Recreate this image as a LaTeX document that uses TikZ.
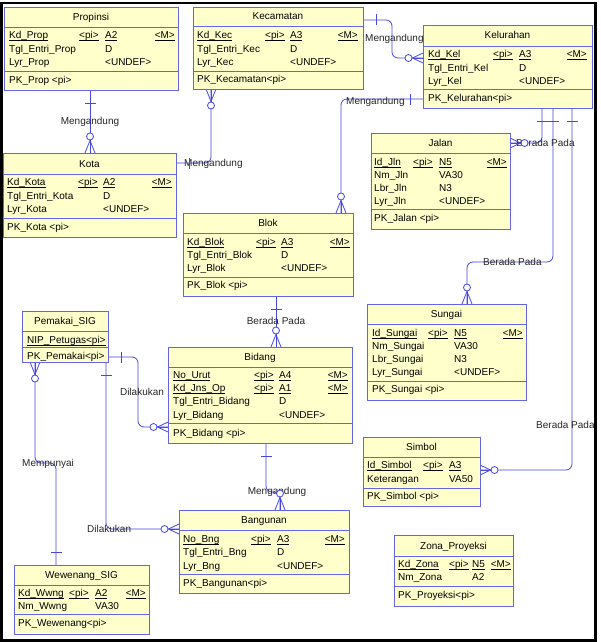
\documentclass[tikz,border=0pt]{standalone}
\usepackage{fontspec}
\setmainfont{Liberation Sans}
\definecolor{entfill}{RGB}{255,255,204}
\definecolor{entline}{RGB}{100,100,230}
\definecolor{connc}{RGB}{70,70,225}
\pgfdeclarelayer{bg}
\pgfsetlayers{bg,main}
\tikzset{
  conn/.style={draw=connc,line width=0.8pt},
  ent/.style={draw=entline,fill=entfill,line width=0.8pt,inner sep=0pt,outer sep=0pt,anchor=north west},
  sepl/.style={draw=entline,line width=0.8pt},
  txt/.style={inner sep=0pt,font=\fontsize{10}{12}\selectfont},
  titl/.style={txt,anchor=base},
  attr/.style={txt,anchor=base west},
  attrr/.style={txt,anchor=base east},
  lbl/.style={txt,text=black!85},
  crowv/.pic={\draw[conn] (0,-5) -- (12.5,0) -- (0,5); \draw[conn] (0,0) -- (12.5,0);
              \draw[conn,fill=white] (16.5,0) circle[radius=3.5];},
  crowh/.pic={\draw[conn] (0,-5) -- (10.5,0) -- (0,5); \draw[conn] (0,0) -- (10.5,0);
              \draw[conn,fill=white] (14.5,0) circle[radius=3.5];},
  barm/.pic={\draw[conn] (13,-5.5) -- (13,5.5);}
}
\newcommand\uln[1]{\underline{\smash{#1}}}
\newcommand\atx[4]{\node[attr] (#1) at (#2,#3) {#4};}
\newcommand\atr[4]{\node[attrr] (#1) at (#2,#3) {#4};}
\newcommand\entbox[8]{%
  \pgfmathsetmacro\tmpw{#4-#2}%
  \pgfmathsetmacro\tmph{#5-#3}%
  \pgfmathsetmacro\tmpy{(#3+#6)/2+3.5}%
  \node[ent,minimum width=\tmpw pt,minimum height=\tmph pt] (#1) at (#2,#3) {};
  \draw[sepl] (#1.west |- 0,#6) -- (#1.east |- 0,#6);
  \draw[sepl] (#1.west |- 0,#7) -- (#1.east |- 0,#7);
  \node[titl] (#1-t) at (#1.north |- 0,\tmpy) {#8};}
\begin{document}
\begin{tikzpicture}[x=1pt,y=-1pt]
\useasboundingbox (0,0) rectangle (600,642);
\begin{pgfonlayer}{bg}
\fill[white] (0,0) rectangle (600,642);
\end{pgfonlayer}

% Propinsi
\entbox{prop}{4}{7}{178}{90}{27}{71}{Propinsi}
\atx{prop-n1}{9}{38.5}{\uln{Kd\_Prop}}
\atx{prop-p1}{79}{38.5}{\uln{<pi>}}
\atx{prop-d1}{105}{38.5}{\uln{A2}}
\atr{prop-m1}{175}{38.5}{\uln{<M>}}
\atx{prop-n2}{9}{52.5}{Tgl\_Entri\_Prop}
\atx{prop-d2}{105}{52.5}{D}
\atx{prop-n3}{9}{65.5}{Lyr\_Prop}
\atx{prop-d3}{105}{65.5}{<UNDEF>}
\atx{prop-k}{9}{83.5}{PK\_Prop <pi>}

% Kecamatan
\entbox{kec}{193}{7}{363}{89}{26}{71}{Kecamatan}
\atx{kec-n1}{197}{38.5}{\uln{Kd\_Kec}}
\atx{kec-p1}{265}{38.5}{\uln{<pi>}}
\atx{kec-d1}{290}{38.5}{\uln{A3}}
\atr{kec-m1}{358}{38.5}{\uln{<M>}}
\atx{kec-n2}{197}{52.5}{Tgl\_Entri\_Kec}
\atx{kec-d2}{290}{52.5}{D}
\atx{kec-n3}{197}{65.5}{Lyr\_Kec}
\atx{kec-d3}{290}{65.5}{<UNDEF>}
\atx{kec-k}{197}{82.5}{PK\_Kecamatan<pi>}

% Kelurahan
\entbox{kel}{423}{25}{592}{108}{46}{89}{Kelurahan}
\atx{kel-n1}{428}{57.5}{\uln{Kd\_Kel}}
\atx{kel-p1}{493}{57.5}{\uln{<pi>}}
\atx{kel-d1}{519}{57.5}{\uln{A3}}
\atr{kel-m1}{587}{57.5}{\uln{<M>}}
\atx{kel-n2}{428}{71.5}{Tgl\_Entri\_Kel}
\atx{kel-d2}{519}{71.5}{D}
\atx{kel-n3}{428}{84.5}{Lyr\_Kel}
\atx{kel-d3}{519}{84.5}{<UNDEF>}
\atx{kel-k}{428}{101.5}{PK\_Kelurahan<pi>}

% Kota
\entbox{kota}{3}{153}{176}{237}{174}{218}{Kota}
\atx{kota-n1}{7}{185.5}{\uln{Kd\_Kota}}
\atx{kota-p1}{78}{185.5}{\uln{<pi>}}
\atx{kota-d1}{103}{185.5}{\uln{A2}}
\atr{kota-m1}{172}{185.5}{\uln{<M>}}
\atx{kota-n2}{7}{199.5}{Tgl\_Entri\_Kota}
\atx{kota-d2}{103}{199.5}{D}
\atx{kota-n3}{7}{212.5}{Lyr\_Kota}
\atx{kota-d3}{103}{212.5}{<UNDEF>}
\atx{kota-k}{7}{230.5}{PK\_Kota <pi>}

% Blok
\entbox{blok}{183}{213}{353}{296}{233}{277}{Blok}
\atx{blok-n1}{187}{245.5}{\uln{Kd\_Blok}}
\atx{blok-p1}{256}{245.5}{\uln{<pi>}}
\atx{blok-d1}{281}{245.5}{\uln{A3}}
\atr{blok-m1}{350}{245.5}{\uln{<M>}}
\atx{blok-n2}{187}{258.5}{Tgl\_Entri\_Blok}
\atx{blok-d2}{281}{258.5}{D}
\atx{blok-n3}{187}{271.5}{Lyr\_Blok}
\atx{blok-d3}{281}{271.5}{<UNDEF>}
\atx{blok-k}{187}{288.5}{PK\_Blok <pi>}

% Jalan
\entbox{jalan}{371}{133}{510}{229}{153}{209}{Jalan}
\atx{jalan-n1}{374}{165.5}{\uln{Id\_Jln}}
\atx{jalan-p1}{413}{165.5}{\uln{<pi>}}
\atx{jalan-d1}{439}{165.5}{\uln{N5}}
\atr{jalan-m1}{507}{165.5}{\uln{<M>}}
\atx{jalan-n2}{374}{178.5}{Nm\_Jln}
\atx{jalan-d2}{439}{178.5}{VA30}
\atx{jalan-n3}{374}{191.5}{Lbr\_Jln}
\atx{jalan-d3}{439}{191.5}{N3}
\atx{jalan-n4}{374}{204.5}{Lyr\_Jln}
\atx{jalan-d4}{439}{204.5}{<UNDEF>}
\atx{jalan-k}{374}{221.5}{PK\_Jalan <pi>}

% Sungai
\entbox{sungai}{367}{304}{526}{400}{324}{381}{Sungai}
\atx{sungai-n1}{372}{336.5}{\uln{Id\_Sungai}}
\atx{sungai-p1}{428}{336.5}{\uln{<pi>}}
\atx{sungai-d1}{454}{336.5}{\uln{N5}}
\atr{sungai-m1}{523}{336.5}{\uln{<M>}}
\atx{sungai-n2}{372}{349.5}{Nm\_Sungai}
\atx{sungai-d2}{454}{349.5}{VA30}
\atx{sungai-n3}{372}{362.5}{Lbr\_Sungai}
\atx{sungai-d3}{454}{362.5}{N3}
\atx{sungai-n4}{372}{375.5}{Lyr\_Sungai}
\atx{sungai-d4}{454}{375.5}{<UNDEF>}
\atx{sungai-k}{372}{392.5}{PK\_Sungai <pi>}

% Simbol
\entbox{simbol}{363}{437}{480}{506}{457}{488}{Simbol}
\atx{simbol-n1}{367}{468.5}{\uln{Id\_Simbol}}
\atx{simbol-p1}{423}{468.5}{\uln{<pi>}}
\atx{simbol-d1}{449}{468.5}{\uln{A3}}
\atx{simbol-n2}{367}{482.5}{Keterangan}
\atx{simbol-d2}{449}{482.5}{VA50}
\atx{simbol-k}{367}{499.5}{PK\_Simbol <pi>}

% Pemakai_SIG
\entbox{pem}{22}{311}{108}{362}{331}{347}{Pemakai\_SIG}
\atx{pem-n1}{27}{343.5}{\uln{NIP\_Petugas<pi>}}
\atx{pem-k}{27}{359.5}{PK\_Pemakai<pi>}

% Bidang
\entbox{bidang}{168}{347}{352}{443}{367}{423}{Bidang}
\atx{bidang-n1}{173}{378.5}{\uln{No\_Urut}}
\atx{bidang-p1}{254}{378.5}{\uln{<pi>}}
\atx{bidang-d1}{279}{378.5}{\uln{A4}}
\atr{bidang-m1}{348}{378.5}{\uln{<M>}}
\atx{bidang-n2}{173}{391.5}{\uln{Kd\_Jns\_Op}}
\atx{bidang-p2}{254}{391.5}{\uln{<pi>}}
\atx{bidang-d2}{279}{391.5}{\uln{A1}}
\atr{bidang-m2}{348}{391.5}{\uln{<M>}}
\atx{bidang-n3}{173}{404.5}{Tgl\_Entri\_Bidang}
\atx{bidang-d3}{279}{404.5}{D}
\atx{bidang-n4}{173}{418.5}{Lyr\_Bidang}
\atx{bidang-d4}{279}{418.5}{<UNDEF>}
\atx{bidang-k}{173}{436.5}{PK\_Bidang <pi>}

% Bangunan
\entbox{bang}{179}{510}{349}{593}{530}{574}{Bangunan}
\atx{bang-n1}{183}{542.5}{\uln{No\_Bng}}
\atx{bang-p1}{251}{542.5}{\uln{<pi>}}
\atx{bang-d1}{277}{542.5}{\uln{A3}}
\atr{bang-m1}{345}{542.5}{\uln{<M>}}
\atx{bang-n2}{183}{555.5}{Tgl\_Entri\_Bng}
\atx{bang-d2}{277}{555.5}{D}
\atx{bang-n3}{183}{569.5}{Lyr\_Bng}
\atx{bang-d3}{277}{569.5}{<UNDEF>}
\atx{bang-k}{183}{586.5}{PK\_Bangunan<pi>}

% Wewenang_SIG
\entbox{wew}{14}{565}{149}{634}{585}{614}{Wewenang\_SIG}
\atx{wew-n1}{18}{596.5}{\uln{Kd\_Wwng}}
\atx{wew-p1}{69}{596.5}{\uln{<pi>}}
\atx{wew-d1}{95}{596.5}{\uln{A2}}
\atr{wew-m1}{146}{596.5}{\uln{<M>}}
\atx{wew-n2}{18}{609.5}{Nm\_Wwng}
\atx{wew-d2}{95}{609.5}{VA30}
\atx{wew-k}{18}{626.5}{PK\_Wewenang<pi>}

% Zona_Proyeksi
\entbox{zona}{394}{535}{513}{606}{556}{586}{Zona\_Proyeksi}
\atx{zona-n1}{398}{567.5}{\uln{Kd\_Zona}}
\atx{zona-p1}{449}{567.5}{\uln{<pi>}}
\atx{zona-d1}{472}{567.5}{\uln{N5}}
\atr{zona-m1}{511}{567.5}{\uln{<M>}}
\atx{zona-n2}{398}{580.5}{Nm\_Zona}
\atx{zona-d2}{472}{580.5}{A2}
\atx{zona-k}{398}{598.5}{PK\_Proyeksi<pi>}

% Connectors
\begin{pgfonlayer}{bg}
\begin{scope}[rounded corners=6pt]
\draw[conn] (90,0 |- prop.south) -- (90,0 |- kota.north);
\draw[conn] (kota.east |- 0,163) -- (211,163) -- (211,0 |- kec.south);
\draw[conn] (kec.east |- 0,20) -- (392,20) -- (392,58) -- (kel.west |- 0,58);
\draw[conn] (kel.west |- 0,99) -- (341,99) -- (341,0 |- blok.north);
\draw[conn] (542,0 |- kel.south) -- (542,143) -- (jalan.east |- 0,143);
\draw[conn] (553,0 |- kel.south) -- (553,262) -- (467,262) -- (467,0 |- sungai.north);
\draw[conn] (572,0 |- kel.south) -- (572,470) -- (simbol.east |- 0,470);
\draw[conn] (276,0 |- blok.south) -- (276,0 |- bidang.north);
\draw[conn] (pem.east |- 0,357) -- (138,357) -- (138,427) -- (bidang.west |- 0,427);
\draw[conn] (106,0 |- pem.south) -- (106,529) -- (bang.west |- 0,529);
\draw[conn] (35,0 |- pem.south) -- (35,463) -- (56,463) -- (56,0 |- wew.north);
\draw[conn] (266,0 |- bidang.south) -- (266,492) -- (280,492) -- (280,0 |- bang.north);
\end{scope}
% labels
\node[lbl,anchor=base] (l1) at (90,124.5) {Mengandung};
\node[lbl,anchor=base west] (l2) at (184,166.5) {Mengandung};
\node[lbl,anchor=base west] (l3) at (365,41.5) {Mengandung};
\node[lbl,anchor=base west] (l4) at (346,104.5) {Mengandung};
\node[lbl,anchor=base west] (l5) at (516,146.5) {Berada Pada};
\node[lbl,anchor=base west] (l6) at (483,265.5) {Berada Pada};
\node[lbl,anchor=base west] (l7) at (536,428.5) {Berada Pada};
\node[lbl,anchor=base] (l8) at (276,324.5) {Berada Pada};
\node[lbl,anchor=base] (l9) at (142,395.5) {Dilakukan};
\node[lbl,anchor=base west] (l10) at (87,532.5) {Dilakukan};
\node[lbl,anchor=base west] (l11) at (22,466.5) {Mempunyai};
\node[lbl,anchor=base] (l12) at (277,494.5) {Mengandung};
% ends
\pic[rotate=-90] at (90,0 |- prop.south) {barm};
\pic[rotate=90] at (90,0 |- kota.north) {crowv};
\pic at (kota.east |- 0,163) {barm};
\pic[rotate=-90] at (211,0 |- kec.south) {crowv};
\pic at (kec.east |- 0,20) {barm};
\pic[rotate=180] at (kel.west |- 0,58) {crowh};
\pic[rotate=180] at (kel.west |- 0,99) {barm};
\pic[rotate=90] at (341,0 |- blok.north) {crowv};
\pic[rotate=-90] at (542,0 |- kel.south) {barm};
\pic at (jalan.east |- 0,143) {crowh};
\pic[rotate=-90] at (553,0 |- kel.south) {barm};
\pic[rotate=90] at (467,0 |- sungai.north) {crowv};
\pic[rotate=-90] at (572,0 |- kel.south) {barm};
\pic at (simbol.east |- 0,470) {crowh};
\pic[rotate=-90] at (276,0 |- blok.south) {barm};
\pic[rotate=90] at (276,0 |- bidang.north) {crowv};
\pic at (pem.east |- 0,357) {barm};
\pic[rotate=180] at (bidang.west |- 0,427) {crowh};
\pic[rotate=-90] at (106,0 |- pem.south) {barm};
\pic[rotate=180] at (bang.west |- 0,529) {crowh};
\pic[rotate=-90] at (35,0 |- pem.south) {crowv};
\pic[rotate=90] at (56,0 |- wew.north) {barm};
\pic[rotate=-90] at (266,0 |- bidang.south) {barm};
\pic[rotate=90] at (280,0 |- bang.north) {crowv};
\end{pgfonlayer}

\draw[line width=2.5pt] (1.5,3) rectangle (595.5,640.5);
\end{tikzpicture}
\end{document}
